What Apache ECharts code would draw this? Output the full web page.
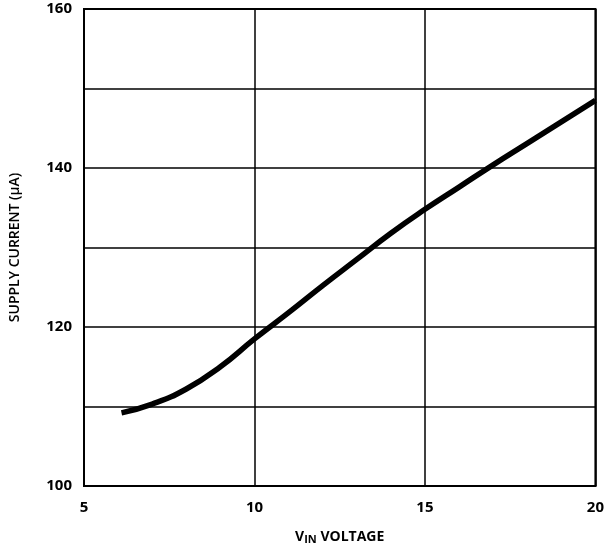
<!DOCTYPE html>
<html>
<head>
<meta charset="utf-8">
<script src="https://cdn.jsdelivr.net/npm/echarts@6/dist/echarts.min.js"></script>
<style>
html,body{margin:0;padding:0;background:#fff;}
#main{width:607px;height:550px;}
</style>
</head>
<body>
<div id="main"></div>
<script>
var voltage = [6.1, 7, 8, 9, 10, 11, 12, 13, 14, 15, 16, 17, 18, 19, 20];
var current = [109.2, 110.3, 112.2, 115, 118.5, 121.8, 125.2, 128.5, 131.8, 134.8, 137.6, 140.4, 143.1, 145.8, 148.5];
var yLabels = [100, 120, 140, 160];

var chart = echarts.init(document.getElementById('main'));

var pts = voltage.map(function (v, i) { return [v, current[i]]; });

var option = {
  animation: false,
  grid: {
    left: 84, right: 10, top: 9, bottom: 59,
    show: true, borderColor: '#000', borderWidth: 2
  },
  xAxis: {
    type: 'value', min: 5, max: 20, interval: 5,
    name: '{v|V}{s|IN}{v| VOLTAGE}',
    nameLocation: 'middle', nameGap: 44,
    nameTextStyle: {
      rich: {
        v: { fontFamily: 'Open Sans', fontWeight: 'bold', fontSize: 14, color: '#000' },
        s: { fontFamily: 'Open Sans', fontWeight: 'bold', fontSize: 11, color: '#000', verticalAlign: 'bottom', padding: [4, 0, 0, 0] }
      }
    },
    axisLine: { lineStyle: { color: '#000', width: 2 } },
    axisTick: { show: false },
    axisLabel: { color: '#000', fontFamily: 'Open Sans', fontWeight: 'bold', fontSize: 15, margin: 14 },
    splitLine: { lineStyle: { color: '#000', width: 1.5 } }
  },
  yAxis: {
    type: 'value', min: 100, max: 160, interval: 10,
    name: 'SUPPLY CURRENT (µA)',
    nameLocation: 'middle', nameGap: 62,
    nameTextStyle: { color: '#000', fontFamily: 'Open Sans', fontWeight: 600, fontSize: 14 },
    axisLine: { lineStyle: { color: '#000', width: 2 } },
    axisTick: { show: false },
    axisLabel: {
      color: '#000', fontFamily: 'Open Sans', fontWeight: 'bold', fontSize: 15, margin: 12,
      formatter: function (v) { return yLabels.indexOf(v) >= 0 ? String(v) : ''; }
    },
    splitLine: { lineStyle: { color: '#000', width: 1.5 } }
  },
  series: [{
    type: 'line',
    data: pts,
    smooth: true,
    showSymbol: false,
    lineStyle: { color: '#000', width: 5.5 }
  }]
};

chart.setOption(option);
</script>
</body>
</html>
